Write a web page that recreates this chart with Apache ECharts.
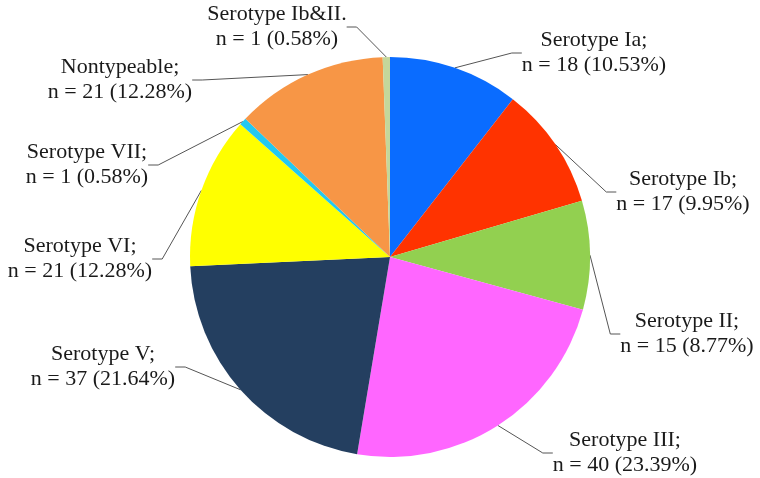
<!DOCTYPE html>
<html>
<head>
<meta charset="utf-8">
<script src="https://cdn.jsdelivr.net/npm/echarts@6/dist/echarts.min.js"></script>
<style>
  html, body { margin: 0; padding: 0; background: #fff; }
  #chart { width: 760px; height: 478px; }
</style>
</head>
<body>
<div id="chart"></div>
<script>
// serotype data, clockwise from 12 o'clock
const names = ['Serotype Ia;', 'Serotype Ib;', 'Serotype II;', 'Serotype III;', 'Serotype V;',
  'Serotype VI;', 'Serotype VII;', 'Nontypeable;', 'Serotype Ib&II.']
const counts = [18, 17, 15, 40, 37, 21, 1, 21, 1]
const pctText = ['10.53%', '9.95%', '8.77%', '23.39%', '21.64%', '12.28%', '0.58%', '12.28%', '0.58%']
const colors = ['#0a6cff', '#ff3300', '#92d050', '#ff66ff', '#243f60', '#ffff00', '#22c8f0', '#f79646', '#c4d79b']

// label centres (px)
const labelPos = [[594, 53], [683, 192], [687, 334], [625, 453], [103, 367],
  [80, 259], [87, 165], [120, 80], [277, 27]]

const chart = echarts.init(document.getElementById('chart'))

const option = {
  animation: false,
  series: [{
    type: 'pie',
    center: [390, 257],
    radius: 200,
    startAngle: 90,
    clockwise: true,
    avoidLabelOverlap: false,
    itemStyle: { borderWidth: 0 },
    label: {
      show: true,
      position: 'outside',
      fontFamily: '"Liberation Serif", "Times New Roman", serif',
      fontSize: 22,
      lineHeight: 25,
      color: '#1a1a1a',
      align: 'center',
      formatter: p => names[p.dataIndex] + '\nn = ' + p.value + ' (' + pctText[p.dataIndex] + ')'
    },
    labelLine: {
      show: true,
      length: 10,
      length2: 10,
      lineStyle: { color: '#555', width: 1 }
    },
    labelLayout: p => ({
      x: labelPos[p.dataIndex][0],
      y: labelPos[p.dataIndex][1],
      align: 'center',
      verticalAlign: 'middle'
    }),
    emphasis: { disabled: true },
    data: counts.map((v, i) => ({
      value: v,
      name: names[i],
      itemStyle: { color: colors[i] }
    }))
  }]
}
chart.setOption(option)
</script>
</body>
</html>
